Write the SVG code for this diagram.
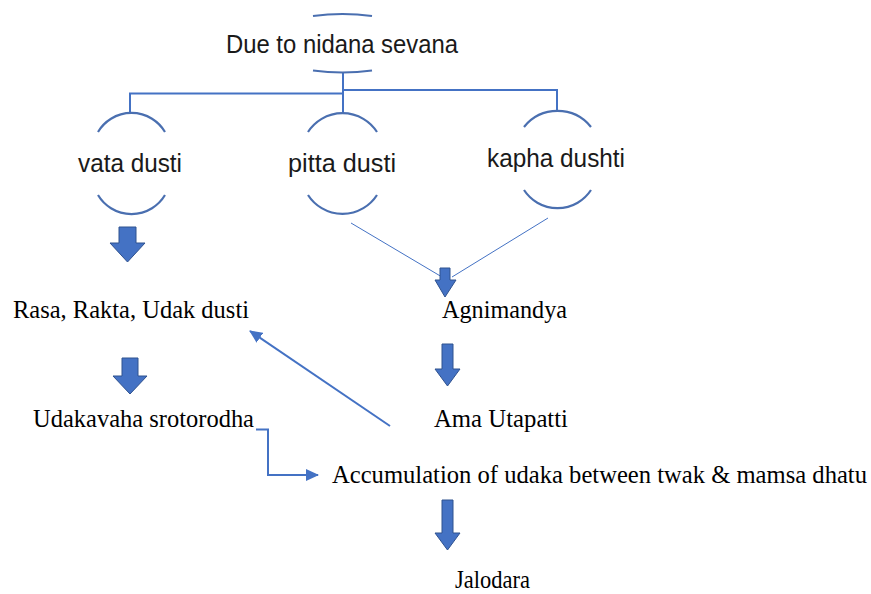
<svg xmlns="http://www.w3.org/2000/svg" width="871" height="594" viewBox="0 0 871 594">
<defs>
<style>
.sans{font-family:"Liberation Sans",Arial,sans-serif;font-size:25px;fill:#1a1a1a}
.serif{font-family:"Liberation Serif","Times New Roman",serif;font-size:24.5px;fill:#000}
.ln{stroke:#4472C4;stroke-width:2;fill:none}
.thin{stroke:#4472C4;stroke-width:1;fill:none}
.arc{stroke:#4A6FB0;stroke-width:2.2;fill:none}
.blk{fill:#4472C4;stroke:#2F528F;stroke-width:1}
</style>
<marker id="ah" markerUnits="userSpaceOnUse" markerWidth="14" markerHeight="14" viewBox="0 0 14 14" refX="12" refY="7" orient="auto">
<path d="M0,1 L13,7 L0,13 Z" fill="#4472C4"/>
</marker>
</defs>
<rect width="871" height="594" fill="#fff"/>

<g id="connectors">
<polyline class="ln" points="343,72 343,113"/>
<polyline class="ln" points="130,113 130,93.5 343,93.5"/>
<polyline class="ln" points="343,90 557,90 557,111"/>
<line class="thin" x1="351" y1="223" x2="442" y2="277"/>
<line class="thin" x1="548" y1="218" x2="452" y2="277"/>
<line class="ln" x1="390" y1="426" x2="250" y2="331" marker-end="url(#ah)"/>
<polyline class="ln" points="256,429.5 268,429.5 268,475 318,475" marker-end="url(#ah)"/>
<path class="blk" d="M119,227 H136 V243 H145 L127.5,262 L110,243 H119 Z"/>
<path class="blk" d="M440,268 H450 V280 H456 L445,297 L435,280 H440 Z"/>
<path class="blk" d="M122,358 H138 V376 H147 L130,394 L113,376 H122 Z"/>
<path class="blk" d="M442,344 H453 V369 H460 L447.5,386 L435,369 H442 Z"/>
<path class="blk" d="M442,500 H453 V533 H460 L447.5,550 L435,533 H442 Z"/>
</g>

<g id="n-nidana">
<path class="arc" d="M313,16 A218,218 0 0 1 372,16"/>
<path class="arc" d="M313,70.5 A218,218 0 0 0 372,70.5"/>
<text class="sans" x="226" y="53" textLength="232" lengthAdjust="spacingAndGlyphs">Due to nidana sevana</text>
</g>

<g id="n-vata">
<path class="arc" d="M98,132 A39,39 0 0 1 165,132"/>
<path class="arc" d="M98,195 A39,39 0 0 0 165,195"/>
<text class="sans" x="78" y="172" textLength="104" lengthAdjust="spacingAndGlyphs">vata dusti</text>
</g>

<g id="n-pitta">
<path class="arc" d="M308,132 A41,41 0 0 1 377,132"/>
<path class="arc" d="M308,195 A41,41 0 0 0 377,195"/>
<text class="sans" x="288" y="172" textLength="108" lengthAdjust="spacingAndGlyphs">pitta dusti</text>
</g>

<g id="n-kapha">
<path class="arc" d="M524,127 A43,43 0 0 1 591,127"/>
<path class="arc" d="M524,190 A40,40 0 0 0 591,190"/>
<text class="sans" x="487" y="167" textLength="138" lengthAdjust="spacingAndGlyphs">kapha dushti</text>
</g>

<g id="n-rasa">
<text class="serif" x="13" y="318" textLength="236" lengthAdjust="spacingAndGlyphs">Rasa, Rakta, Udak dusti</text>
</g>

<g id="n-agni">
<text class="serif" x="442" y="318" textLength="125" lengthAdjust="spacingAndGlyphs">Agnimandya</text>
</g>

<g id="n-udakavaha">
<text class="serif" x="33" y="427" textLength="221" lengthAdjust="spacingAndGlyphs">Udakavaha srotorodha</text>
</g>

<g id="n-ama">
<text class="serif" x="434" y="427" textLength="134" lengthAdjust="spacingAndGlyphs">Ama Utapatti</text>
</g>

<g id="n-accum">
<text class="serif" x="332" y="483" textLength="535" lengthAdjust="spacingAndGlyphs">Accumulation of udaka between twak &amp; mamsa dhatu</text>
</g>

<g id="n-jalodara">
<text class="serif" x="455" y="588" textLength="75" lengthAdjust="spacingAndGlyphs">Jalodara</text>
</g>
</svg>
